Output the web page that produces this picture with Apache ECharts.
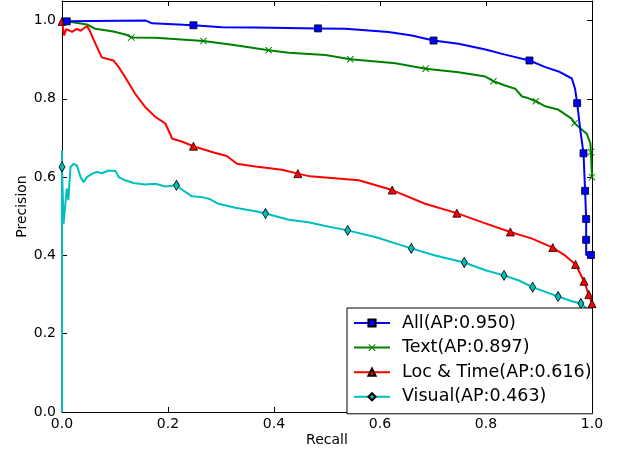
<!DOCTYPE html>
<html>
<head>
<meta charset="utf-8">
<script src="https://cdn.jsdelivr.net/npm/echarts@6/dist/echarts.min.js"></script>
<style>
  html, body { margin: 0; padding: 0; background: #ffffff; }
  #chart { width: 624px; height: 453px; }
</style>
</head>
<body>
<div id="chart"></div>
<script>
// Precision-recall curves: each curve is a list of [recall, precision] points,
// and the *Marks arrays list which of those points carry a marker.
const seriesNames = ['All(AP:0.950)', 'Text(AP:0.897)', 'Loc & Time(AP:0.616)', 'Visual(AP:0.463)'];
const xTicks = [0, 0.2, 0.4, 0.6, 0.8, 1.0];
const yTicks = [0, 0.2, 0.4, 0.6, 0.8, 1.0];

const allPR = [
  [0.000, 1.000], [0.009, 0.998], [0.158, 1.000], [0.170, 0.993], [0.248, 0.988],
  [0.302, 0.983], [0.365, 0.982], [0.483, 0.980], [0.535, 0.979], [0.616, 0.971],
  [0.660, 0.962], [0.701, 0.949], [0.748, 0.941], [0.799, 0.926], [0.836, 0.913],
  [0.882, 0.898], [0.912, 0.881], [0.937, 0.870], [0.962, 0.852], [0.968, 0.826],
  [0.972, 0.789], [0.978, 0.720], [0.984, 0.661], [0.987, 0.565], [0.989, 0.493],
  [0.989, 0.440], [0.989, 0.401], [0.998, 0.401]
];
const allMarks = [1, 4, 7, 11, 15, 20, 22, 23, 24, 25, 27];

const textPR = [
  [0.000, 1.000], [0.047, 0.990], [0.063, 0.979], [0.097, 0.972], [0.123, 0.963],
  [0.131, 0.957], [0.176, 0.956], [0.267, 0.948], [0.321, 0.938], [0.390, 0.924],
  [0.428, 0.918], [0.497, 0.912], [0.544, 0.901], [0.629, 0.891], [0.686, 0.877],
  [0.748, 0.868], [0.799, 0.857], [0.814, 0.845], [0.836, 0.834], [0.855, 0.826],
  [0.868, 0.806], [0.877, 0.803], [0.894, 0.794], [0.912, 0.781], [0.937, 0.772],
  [0.962, 0.749], [0.967, 0.738], [0.981, 0.721], [0.990, 0.711], [0.997, 0.686],
  [0.998, 0.664], [1.000, 0.600]
];
const textMarks = [5, 7, 9, 12, 14, 17, 22, 26, 30, 31];

const locPR = [
  [0.000, 0.998], [0.004, 0.962], [0.008, 0.978], [0.019, 0.971], [0.028, 0.979],
  [0.035, 0.974], [0.047, 0.986], [0.052, 0.975], [0.063, 0.941], [0.075, 0.906],
  [0.097, 0.898], [0.107, 0.881], [0.119, 0.856], [0.138, 0.813], [0.157, 0.779],
  [0.176, 0.754], [0.195, 0.737], [0.208, 0.698], [0.226, 0.691], [0.248, 0.679],
  [0.286, 0.663], [0.311, 0.654], [0.330, 0.634], [0.365, 0.627], [0.415, 0.619],
  [0.445, 0.609], [0.468, 0.602], [0.497, 0.599], [0.560, 0.592], [0.623, 0.567],
  [0.685, 0.532], [0.745, 0.508], [0.792, 0.485], [0.846, 0.460], [0.887, 0.443],
  [0.926, 0.420], [0.949, 0.400], [0.969, 0.377], [0.985, 0.334], [0.994, 0.300],
  [1.000, 0.277], [1.000, 0.250]
];
const locMarks = [0, 19, 25, 29, 31, 33, 35, 37, 38, 39, 40];

const visualPR = [
  [0.000, 0.000], [0.000, 0.668], [0.000, 0.626], [0.003, 0.481], [0.009, 0.571],
  [0.012, 0.541], [0.016, 0.626], [0.022, 0.634], [0.028, 0.630], [0.035, 0.600],
  [0.041, 0.587], [0.047, 0.600], [0.057, 0.609], [0.066, 0.613], [0.075, 0.610],
  [0.088, 0.617], [0.101, 0.616], [0.107, 0.600], [0.119, 0.592], [0.135, 0.585],
  [0.157, 0.581], [0.176, 0.583], [0.195, 0.576], [0.216, 0.579], [0.229, 0.566],
  [0.245, 0.551], [0.264, 0.549], [0.277, 0.545], [0.295, 0.532], [0.327, 0.522],
  [0.365, 0.513], [0.384, 0.507], [0.428, 0.491], [0.465, 0.485], [0.497, 0.475],
  [0.539, 0.464], [0.591, 0.447], [0.659, 0.418], [0.704, 0.400], [0.759, 0.382],
  [0.799, 0.362], [0.834, 0.349], [0.862, 0.336], [0.888, 0.319], [0.912, 0.307],
  [0.936, 0.295], [0.962, 0.283], [0.979, 0.277], [0.991, 0.264], [1.000, 0.250]
];
const visualMarks = [2, 23, 31, 35, 37, 39, 41, 43, 45, 47];

const FONT = 'DejaVu Sans';
const crossPath = 'path://M1,0 L5,4 L9,0 L10,1 L6,5 L10,9 L9,10 L5,6 L1,10 L0,9 L4,5 L0,1 Z';

function curveData(points, marks) {
  return points.map((p, i) => marks.indexOf(i) >= 0 ? { value: p } : { value: p, symbol: 'none' });
}

function curve(name, points, marks, color, symbol, size, border, z) {
  return {
    type: 'line',
    name: name,
    z: z,
    data: curveData(points, marks),
    symbol: symbol,
    symbolSize: size,
    showSymbol: true,
    clip: true,
    lineStyle: { color: color, width: 2 },
    itemStyle: { color: color, borderColor: border, borderWidth: border === color ? 0 : 0.8 },
    emphasis: { disabled: true },
    xAxisIndex: 0,
    yAxisIndex: 0
  };
}

const fmt = v => Number(v).toFixed(1);
const tickStyle = { show: true, inside: true, length: 5, lineStyle: { color: '#000', width: 1 } };
const lineStyle = { show: true, onZero: false, lineStyle: { color: '#000', width: 1 } };

const chart = echarts.init(document.getElementById('chart'), null, { renderer: 'canvas' });
chart.setOption({
  animation: false,
  backgroundColor: '#ffffff',
  grid: { left: 62, top: 1, width: 530, height: 411, containLabel: false },
  xAxis: [
    {
      type: 'value', min: xTicks[0], max: xTicks[xTicks.length - 1], interval: 0.2,
      name: 'Recall', nameLocation: 'middle', nameGap: 21, nameMoveOverlap: false,
      nameTextStyle: { fontFamily: FONT, fontSize: 14, color: '#000' },
      axisLine: lineStyle, axisTick: tickStyle,
      axisLabel: { formatter: fmt, fontFamily: FONT, fontSize: 14, color: '#000', margin: 5 },
      splitLine: { show: false }
    },
    {
      type: 'value', position: 'top', min: xTicks[0], max: xTicks[xTicks.length - 1], interval: 0.2,
      axisLine: lineStyle, axisTick: tickStyle, axisLabel: { show: false }, splitLine: { show: false }
    }
  ],
  yAxis: [
    {
      type: 'value', min: yTicks[0], max: 1.05, interval: 0.2,
      name: 'Precision', nameLocation: 'middle', nameGap: 33, nameMoveOverlap: false,
      nameTextStyle: { fontFamily: FONT, fontSize: 14, color: '#000' },
      axisLine: lineStyle, axisTick: tickStyle,
      axisLabel: { formatter: fmt, fontFamily: FONT, fontSize: 14, color: '#000', margin: 6, showMaxLabel: false },
      splitLine: { show: false }
    },
    {
      type: 'value', position: 'right', min: yTicks[0], max: 1.05, interval: 0.2,
      axisLine: lineStyle, axisTick: tickStyle, axisLabel: { show: false }, splitLine: { show: false }
    }
  ],
  legend: {
    data: seriesNames,
    orient: 'vertical',
    left: 347,
    top: 308,
    padding: [5, 1, 7, 6],
    itemWidth: 36,
    itemHeight: 9,
    itemGap: 4.6,
    backgroundColor: '#ffffff',
    borderColor: '#000',
    borderWidth: 1,
    borderRadius: 0,
    textStyle: { fontFamily: FONT, fontSize: 17.5, color: '#000', lineHeight: 20, padding: [0, 0, 0, 7] },
    selectedMode: false
  },
  series: [
    curve(seriesNames[0], allPR, allMarks, '#0000ff', 'rect', 7, '#000000', 3),
    curve(seriesNames[1], textPR, textMarks, '#008000', crossPath, 7, '#008000', 2),
    curve(seriesNames[2], locPR, locMarks, '#ff0000', 'triangle', 8, '#000000', 2),
    curve(seriesNames[3], visualPR, visualMarks, '#00bfbf', 'diamond', [6, 10], '#000000', 2)
  ]
});
</script>
</body>
</html>
